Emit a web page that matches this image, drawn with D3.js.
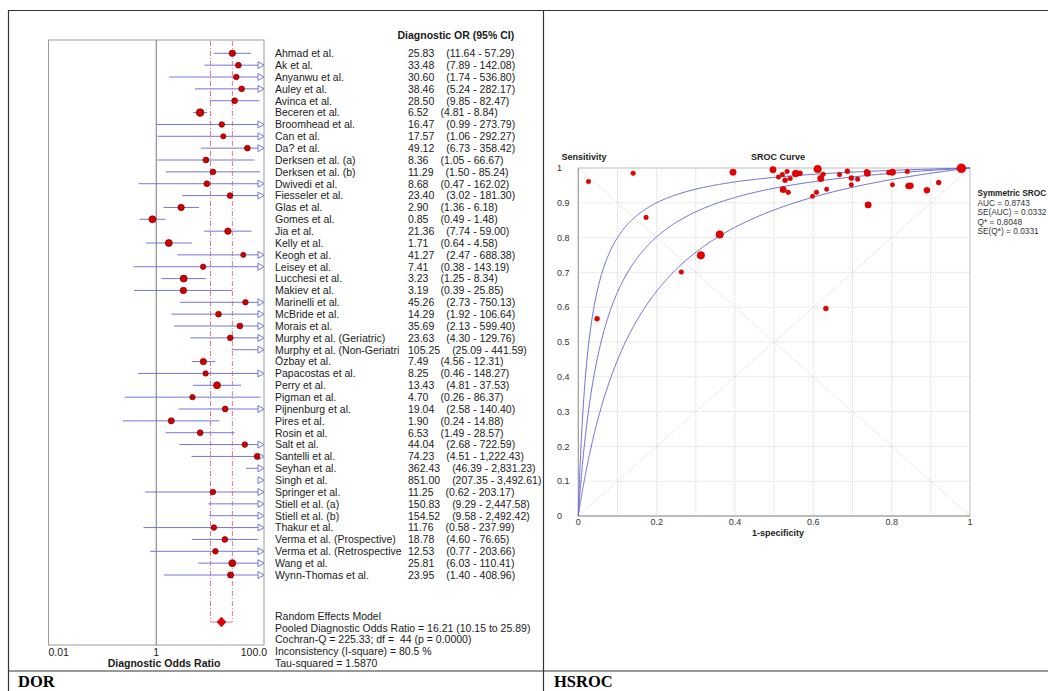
<!DOCTYPE html>
<html>
<head>
<meta charset="utf-8">
<script src="https://cdn.jsdelivr.net/npm/d3@7"></script>
<style>
  body { margin: 0; background: #fff; }
  svg { display: block; font-family: "Liberation Sans", Arial, sans-serif; }
  text { white-space: pre; }
</style>
</head>
<body>
<svg id="chart" width="1048" height="691"></svg>
<script>
// ---- forest plot data (DOR, 95% CI) ----
const studies = ["Ahmad et al.","Ak et al.","Anyanwu et al.","Auley et al.","Avinca et al.","Beceren et al.",
  "Broomhead et al.","Can et al.","Da? et al.","Derksen et al. (a)","Derksen et al. (b)","Dwivedi et al.",
  "Fiesseler et al.","Glas et al.","Gomes et al.","Jia et al.","Kelly et al.","Keogh et al.","Leisey et al.",
  "Lucchesi et al.","Makiev et al.","Marinelli et al.","McBride et al.","Morais et al.","Murphy et al. (Geriatric)",
  "Murphy et al. (Non-Geriatri","Özbay et al.","Papacostas et al.","Perry et al.","Pigman et al.","Pijnenburg et al.",
  "Pires et al.","Rosin et al.","Salt et al.","Santelli et al.","Seyhan et al.","Singh et al.","Springer et al.",
  "Stiell et al. (a)","Stiell et al. (b)","Thakur et al.","Verma et al. (Prospective)","Verma et al. (Retrospective",
  "Wang et al.","Wynn-Thomas et al."];
const dor = [25.83,33.48,30.60,38.46,28.50,6.52,16.47,17.57,49.12,8.36,11.29,8.68,23.40,2.90,0.85,21.36,1.71,41.27,7.41,
  3.23,3.19,45.26,14.29,35.69,23.63,105.25,7.49,8.25,13.43,4.70,19.04,1.90,6.53,44.04,74.23,362.43,851.00,11.25,
  150.83,154.52,11.76,18.78,12.53,25.81,23.95];
const ciLow = [11.64,7.89,1.74,5.24,9.85,4.81,0.99,1.06,6.73,1.05,1.50,0.47,3.02,1.36,0.49,7.74,0.64,2.47,0.38,
  1.25,0.39,2.73,1.92,2.13,4.30,25.09,4.56,0.46,4.81,0.26,2.58,0.24,1.49,2.68,4.51,46.39,207.35,0.62,
  9.29,9.58,0.58,4.60,0.77,6.03,1.40];
const ciHigh = [57.29,142.08,536.80,282.17,82.47,8.84,273.79,292.27,358.42,66.67,85.24,162.02,181.30,6.18,1.48,59.00,4.58,688.38,143.19,
  8.34,25.85,750.13,106.64,599.40,129.76,441.59,12.31,148.27,37.53,86.37,140.40,14.88,28.57,722.59,1222.43,2831.23,3492.61,203.17,
  2447.58,2492.42,237.99,76.65,203.66,110.41,408.96];
const weightRadius = [3.2,2.9,2.8,2.9,2.9,3.8,2.8,2.6,2.9,2.9,2.9,2.9,2.9,3.2,3.5,3.2,3.5,2.6,2.7,
  3.5,3.2,2.8,2.9,2.9,2.9,0,3.2,2.7,3.5,2.7,2.9,3.1,2.9,2.8,2.9,0,0,2.8,
  0,0,2.8,2.9,2.8,3.5,3.1];
const pooled = { est: 16.21, lo: 10.15, hi: 25.89 };
const summaryLines = ["Random Effects Model",
  "Pooled Diagnostic Odds Ratio = 16.21 (10.15 to 25.89)",
  "Cochran-Q = 225.33; df =  44 (p = 0.0000)",
  "Inconsistency (I-square) = 80.5 %",
  "Tau-squared = 1.5870"];
const forestTicks = [0.01, 1, 100];
const forestTickLabels = ["0.01", "1", "100.0"];

// ---- SROC data (1-specificity, sensitivity, marker radius) ----
const fpr  = [0.026,0.140,0.173,0.048,0.263,0.313,0.361,0.395,0.497,0.511,0.521,0.533,0.528,0.541,0.523,0.536,0.555,0.566,
  0.611,0.619,0.625,0.598,0.608,0.634,0.632,0.667,0.687,0.697,0.697,0.713,0.736,0.738,0.740,0.793,0.802,0.802,0.840,
  0.843,0.848,0.890,0.920,0.978];
const sens = [0.961,0.985,0.858,0.567,0.701,0.749,0.809,0.988,0.995,0.974,0.981,0.990,0.965,0.970,0.938,0.930,0.984,0.985,
  0.997,0.970,0.982,0.919,0.930,0.939,0.596,0.981,0.991,0.971,0.952,0.968,0.990,0.985,0.894,0.987,0.988,0.952,0.990,
  0.948,0.949,0.936,0.958,0.999];
const srocRadius = [2.3,2.3,2.3,2.5,2.3,3.8,3.8,3.2,3.2,2.3,2.3,2.3,2.5,2.3,3.2,2.3,3.5,2.5,
  3.8,3.2,2.3,2.2,2.3,2.2,2.5,2.3,2.5,2.5,2.2,2.3,2.3,3.2,3.2,2.5,3.2,2.2,2.3,
  3.0,3.0,3.0,2.5,4.5];
const srocDOR = [36.0, 16.21, 7.3];   // upper bound, SROC, lower bound
const srocTicks = [0,0.1,0.2,0.3,0.4,0.5,0.6,0.7,0.8,0.9,1];
const legendLines = ["AUC = 0.8743","SE(AUC) = 0.0332","Q* = 0.8048","SE(Q*) = 0.0331"];

const svg = d3.select("#chart");
const fmt = d3.format(",.2f");

// ---- table frame ----
const frame = svg.append("g").attr("stroke","#333").attr("stroke-width",1.2);
frame.append("line").attr("x1",8).attr("x2",1048).attr("y1",10.5).attr("y2",10.5);
frame.append("line").attr("x1",8.5).attr("x2",8.5).attr("y1",10).attr("y2",691);
frame.append("line").attr("x1",543.5).attr("x2",543.5).attr("y1",10).attr("y2",691);
frame.append("line").attr("x1",8).attr("x2",1048).attr("y1",671).attr("y2",671);
svg.append("text").attr("x",18).attr("y",687).attr("font-family","'Liberation Serif','Times New Roman',serif")
  .attr("font-weight","bold").attr("font-size",16.5).text("DOR");
svg.append("text").attr("x",554).attr("y",687).attr("font-family","'Liberation Serif','Times New Roman',serif")
  .attr("font-weight","bold").attr("font-size",16.5).text("HSROC");

// ---- forest plot ----
svg.append("clipPath").attr("id","leftcell").append("rect").attr("x",9).attr("y",11).attr("width",534).attr("height",659);
const fg = svg.append("g").attr("clip-path","url(#leftcell)");
const fx = d3.scaleLog().domain([0.01,100]).range([48.5,264]);
const fy = d3.scalePoint().domain(studies).range([53.3,575]);
const boxTop = 40, boxBottom = 645, diamondY = 622;
const lineCol = "#7676d8";

fg.append("rect").attr("x",fx(0.01)).attr("y",boxTop).attr("width",fx(100)-fx(0.01)).attr("height",boxBottom-boxTop)
  .attr("fill","none").attr("stroke","#9a9a9a");
fg.append("line").attr("x1",fx(1)).attr("x2",fx(1)).attr("y1",boxTop).attr("y2",boxBottom).attr("stroke","#777");

// pooled CI bracket
const dash = fg.append("g").attr("stroke","#e07a8a").attr("stroke-width",1).attr("fill","none");
[pooled.lo, pooled.hi].forEach(v => dash.append("line").attr("x1",fx(v)).attr("x2",fx(v))
  .attr("y1",boxTop+1).attr("y2",diamondY).attr("stroke-dasharray","5,2,1,2"));
dash.append("line").attr("x1",fx(pooled.lo)).attr("x2",fx(pooled.hi)).attr("y1",diamondY).attr("y2",diamondY);

const rows = studies.map((s,i) => ({name:s, est:dor[i], lo:ciLow[i], hi:ciHigh[i], r:weightRadius[i]}));
const xMax = fx(100);
const row = fg.selectAll("g.row").data(rows).join("g").attr("class","row");
row.filter(d => d.lo < 100).append("line")
  .attr("x1", d => fx(Math.max(d.lo, 0.01)))
  .attr("x2", d => d.hi > 100 ? xMax - 6 : fx(d.hi))
  .attr("y1", d => fy(d.name)).attr("y2", d => fy(d.name))
  .attr("stroke", lineCol).attr("stroke-width",1);
row.filter(d => d.hi > 100).append("path")
  .attr("d", d => { const y = fy(d.name); return `M${xMax},${y} L${xMax-6},${y-3.5} L${xMax-6},${y+3.5} Z`; })
  .attr("fill","#fff").attr("stroke",lineCol).attr("stroke-width",1);
row.filter(d => d.est <= 100).append("circle")
  .attr("cx", d => fx(d.est)).attr("cy", d => fy(d.name)).attr("r", d => d.r)
  .attr("fill","#d10000").attr("stroke","#7a0000").attr("stroke-width",0.7);

// pooled diamond
const dx = fx(pooled.est);
fg.append("path").attr("d",`M${dx-4.5},${diamondY} L${dx},${diamondY-5} L${dx+4.5},${diamondY} L${dx},${diamondY+5} Z`)
  .attr("fill","#e00000").attr("stroke","#a00000").attr("stroke-width",0.5);

const ft = fg.append("g").attr("font-size",10.5).attr("fill","#1a1a1a");
ft.append("text").attr("x",397.5).attr("y",38.8).attr("font-weight","bold").text("Diagnostic OR (95% CI)");
ft.selectAll("text.name").data(rows).join("text").attr("class","name")
  .attr("x",275).attr("y",d => fy(d.name)+3.8).text(d => d.name);
const vt = ft.selectAll("text.val").data(rows).join("text").attr("class","val")
  .attr("x",408).attr("y",d => fy(d.name)+3.8);
vt.append("tspan").text(d => fmt(d.est));
vt.append("tspan").attr("dx",12).text(d => `(${fmt(d.lo)} - ${fmt(d.hi)})`);
ft.selectAll("text.sum").data(summaryLines).join("text").attr("class","sum")
  .attr("x",275).attr("y",(d,i) => 619.8 + i*11.8).text(d => d);
ft.selectAll("text.tick").data(forestTicks).join("text").attr("class","tick")
  .attr("x", d => d === 0.01 ? fx(d) : d === 100 ? fx(d) + 3 : fx(d))
  .attr("text-anchor", d => d === 0.01 ? "start" : d === 100 ? "end" : "middle")
  .attr("y",655.6).text((d,i) => forestTickLabels[i]);
ft.append("text").attr("x",164).attr("y",667).attr("text-anchor","middle").attr("font-weight","bold")
  .text("Diagnostic Odds Ratio");

// ---- SROC plot ----
const sx = d3.scaleLinear().domain([0,1]).range([578.3,970]);
const sy = d3.scaleLinear().domain([0,1]).range([516,168]);
const sg = svg.append("g");
const grid = sg.append("g").attr("stroke","#d6d6d6").attr("stroke-dasharray","1,1").attr("stroke-width",1);
srocTicks.slice(1,-1).forEach(t => {
  grid.append("line").attr("x1",sx(t)).attr("x2",sx(t)).attr("y1",sy(0)).attr("y2",sy(1));
  grid.append("line").attr("x1",sx(0)).attr("x2",sx(1)).attr("y1",sy(t)).attr("y2",sy(t));
});
const diag = sg.append("g").attr("stroke","#d0d0d0").attr("stroke-dasharray","1,1.5");
diag.append("line").attr("x1",sx(0)).attr("y1",sy(0)).attr("x2",sx(1)).attr("y2",sy(1));
diag.append("line").attr("x1",sx(0)).attr("y1",sy(1)).attr("x2",sx(1)).attr("y2",sy(0));
sg.append("rect").attr("x",sx(0)).attr("y",sy(1)).attr("width",sx(1)-sx(0)).attr("height",sy(0)-sy(1))
  .attr("fill","none").attr("stroke","#bdbdbd");
sg.append("path").attr("d",`M${sx(0)},${sy(1)} V${sy(0)} H${sx(1)}`).attr("fill","none").attr("stroke","#9a9a9a");

// symmetric SROC curves: sens = D*o/(1+D*o), o = fpr/(1-fpr)
const curveX = d3.range(0,1.0001,0.002).map(t => t*t*t);
const srocLine = d3.line().x(d => sx(d[0])).y(d => sy(d[1]));
sg.selectAll("path.sroc").data(srocDOR).join("path").attr("class","sroc")
  .attr("d", D => srocLine(curveX.map(x => {
    if (x >= 1) return [1,1];
    const o = D * x/(1-x); return [x, o/(1+o)];
  })))
  .attr("fill","none").attr("stroke","#6b6bd2").attr("stroke-width",1);

sg.selectAll("circle.pt").data(fpr.map((f,i) => ({f, s:sens[i], r:srocRadius[i]}))).join("circle").attr("class","pt")
  .attr("cx",d => sx(d.f)).attr("cy",d => sy(d.s)).attr("r",d => d.r)
  .attr("fill","#e80000").attr("stroke","#b40000").attr("stroke-width",0.5);

const st = sg.append("g").attr("font-size",9).attr("fill","#333");
st.selectAll("text.yt").data(srocTicks).join("text").attr("class","yt")
  .attr("x",557).attr("y",d => sy(d)+3.2).text(d => d === 0 || d === 1 ? d : d.toFixed(1));
st.selectAll("text.xt").data(srocTicks.filter((d,i) => i % 2 === 0)).join("text").attr("class","xt")
  .attr("x",d => sx(d)).attr("y",525).attr("text-anchor","middle").text(d => d === 0 || d === 1 ? d : d.toFixed(1));
st.append("text").attr("x",778).attr("y",535.5).attr("text-anchor","middle").attr("font-weight","bold").attr("fill","#222").text("1-specificity");
st.append("text").attr("x",561.5).attr("y",160).attr("font-weight","bold").attr("fill","#222").text("Sensitivity");
st.append("text").attr("x",778).attr("y",160).attr("text-anchor","middle").attr("font-weight","bold").attr("fill","#222").text("SROC Curve");
const lg = st.append("g").attr("font-size",8.3);
lg.append("text").attr("x",977.5).attr("y",196).attr("font-weight","bold").attr("fill","#222").text("Symmetric SROC");
lg.selectAll("text.leg").data(legendLines).join("text").attr("class","leg")
  .attr("x",977.5).attr("y",(d,i) => 205.5 + i*9.6).text(d => d);
</script>
</body>
</html>
